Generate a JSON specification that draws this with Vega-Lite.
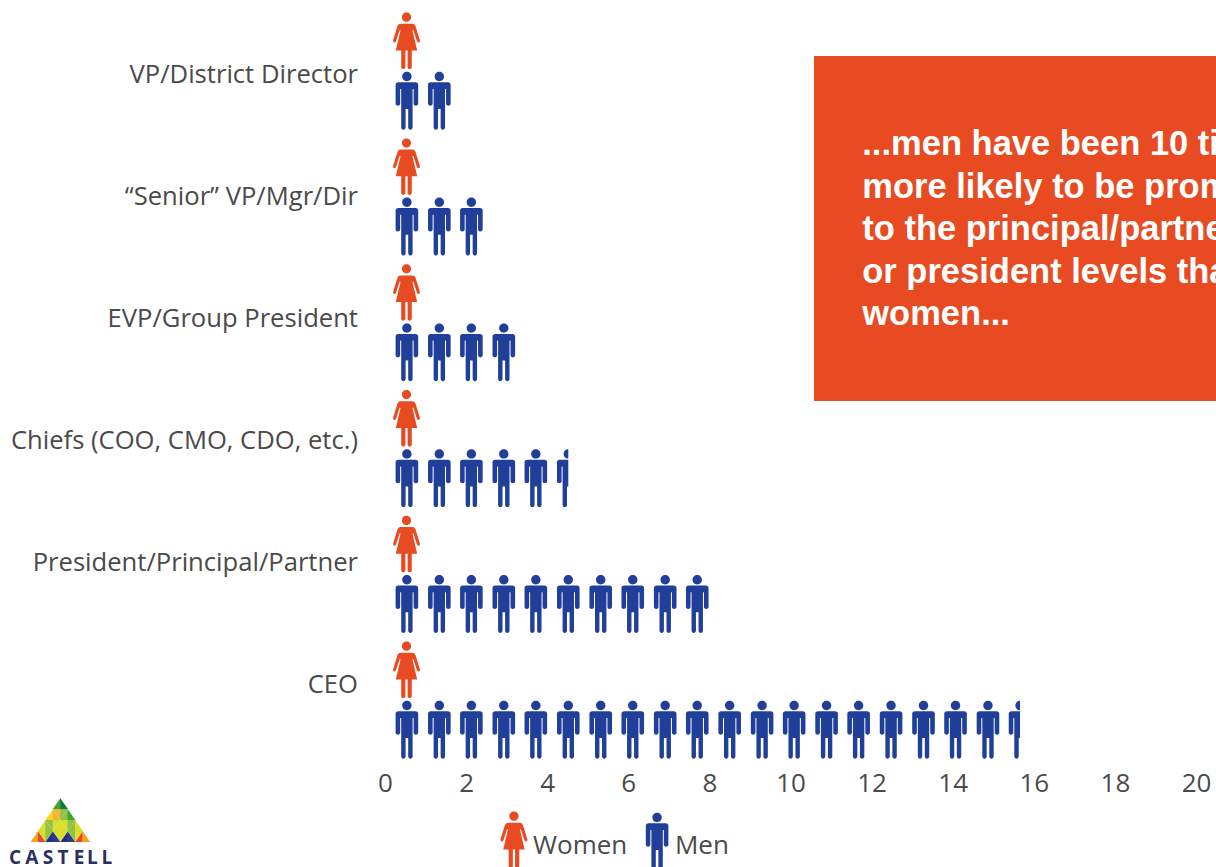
{"$schema":"https://vega.github.io/schema/vega-lite/v6.json","width":831,"height":770,"autosize":"none","padding":{"left":385,"top":0,"right":0,"bottom":97},"background":"white","config":{"view":{"stroke":null}},
"datasets":{
"people":[
{"level":"VP/District Director","gender":"Women","icon":"woman","x":0.53},
{"level":"VP/District Director","gender":"Men","icon":"man","x":0.54},{"level":"VP/District Director","gender":"Men","icon":"man","x":1.34},
{"level":"“Senior” VP/Mgr/Dir","gender":"Women","icon":"woman","x":0.53},
{"level":"“Senior” VP/Mgr/Dir","gender":"Men","icon":"man","x":0.54},{"level":"“Senior” VP/Mgr/Dir","gender":"Men","icon":"man","x":1.34},{"level":"“Senior” VP/Mgr/Dir","gender":"Men","icon":"man","x":2.13},
{"level":"EVP/Group President","gender":"Women","icon":"woman","x":0.53},
{"level":"EVP/Group President","gender":"Men","icon":"man","x":0.54},{"level":"EVP/Group President","gender":"Men","icon":"man","x":1.34},{"level":"EVP/Group President","gender":"Men","icon":"man","x":2.13},{"level":"EVP/Group President","gender":"Men","icon":"man","x":2.93},
{"level":"Chiefs (COO, CMO, CDO, etc.)","gender":"Women","icon":"woman","x":0.53},
{"level":"Chiefs (COO, CMO, CDO, etc.)","gender":"Men","icon":"man","x":0.54},{"level":"Chiefs (COO, CMO, CDO, etc.)","gender":"Men","icon":"man","x":1.34},{"level":"Chiefs (COO, CMO, CDO, etc.)","gender":"Men","icon":"man","x":2.13},{"level":"Chiefs (COO, CMO, CDO, etc.)","gender":"Men","icon":"man","x":2.93},{"level":"Chiefs (COO, CMO, CDO, etc.)","gender":"Men","icon":"man","x":3.72},{"level":"Chiefs (COO, CMO, CDO, etc.)","gender":"Men","icon":"half","x":4.52},
{"level":"President/Principal/Partner","gender":"Women","icon":"woman","x":0.53},
{"level":"President/Principal/Partner","gender":"Men","icon":"man","x":0.54},{"level":"President/Principal/Partner","gender":"Men","icon":"man","x":1.34},{"level":"President/Principal/Partner","gender":"Men","icon":"man","x":2.13},{"level":"President/Principal/Partner","gender":"Men","icon":"man","x":2.93},{"level":"President/Principal/Partner","gender":"Men","icon":"man","x":3.72},{"level":"President/Principal/Partner","gender":"Men","icon":"man","x":4.52},{"level":"President/Principal/Partner","gender":"Men","icon":"man","x":5.32},{"level":"President/Principal/Partner","gender":"Men","icon":"man","x":6.11},{"level":"President/Principal/Partner","gender":"Men","icon":"man","x":6.91},{"level":"President/Principal/Partner","gender":"Men","icon":"man","x":7.70},
{"level":"CEO","gender":"Women","icon":"woman","x":0.53},
{"level":"CEO","gender":"Men","icon":"man","x":0.54},{"level":"CEO","gender":"Men","icon":"man","x":1.34},{"level":"CEO","gender":"Men","icon":"man","x":2.13},{"level":"CEO","gender":"Men","icon":"man","x":2.93},{"level":"CEO","gender":"Men","icon":"man","x":3.72},{"level":"CEO","gender":"Men","icon":"man","x":4.52},{"level":"CEO","gender":"Men","icon":"man","x":5.32},{"level":"CEO","gender":"Men","icon":"man","x":6.11},{"level":"CEO","gender":"Men","icon":"man","x":6.91},{"level":"CEO","gender":"Men","icon":"man","x":7.70},{"level":"CEO","gender":"Men","icon":"man","x":8.50},{"level":"CEO","gender":"Men","icon":"man","x":9.30},{"level":"CEO","gender":"Men","icon":"man","x":10.09},{"level":"CEO","gender":"Men","icon":"man","x":10.89},{"level":"CEO","gender":"Men","icon":"man","x":11.68},{"level":"CEO","gender":"Men","icon":"man","x":12.48},{"level":"CEO","gender":"Men","icon":"man","x":13.28},{"level":"CEO","gender":"Men","icon":"man","x":14.07},{"level":"CEO","gender":"Men","icon":"man","x":14.87},{"level":"CEO","gender":"Men","icon":"half","x":15.66}
],
"levels":[{"level":"VP/District Director"},{"level":"“Senior” VP/Mgr/Dir"},{"level":"EVP/Group President"},{"level":"Chiefs (COO, CMO, CDO, etc.)"},{"level":"President/Principal/Partner"},{"level":"CEO"}],
"legend":[{"gender":"Women","icon":"woman","x":3.18,"tx":3.65},{"gender":"Men","icon":"man","x":6.71,"tx":7.15}],
"logo":[
{"gx":1,"gy":0.5,"part":"L","tint":"orange"},{"gx":1,"gy":0.5,"part":"R","tint":"red"},
{"gx":3,"gy":0.5,"part":"L","tint":"navy"},{"gx":3,"gy":0.5,"part":"R","tint":"navy2"},
{"gx":5,"gy":0.5,"part":"L","tint":"navy"},{"gx":5,"gy":0.5,"part":"R","tint":"navy2"},
{"gx":7,"gy":0.5,"part":"L","tint":"red"},{"gx":7,"gy":0.5,"part":"R","tint":"orange"},
{"gx":2,"gy":0.5,"part":"DL","tint":"lime"},{"gx":2,"gy":0.5,"part":"DR","tint":"leaf"},
{"gx":4,"gy":0.5,"part":"DL","tint":"lime"},{"gx":4,"gy":0.5,"part":"DR","tint":"lime"},
{"gx":6,"gy":0.5,"part":"DL","tint":"leaf"},{"gx":6,"gy":0.5,"part":"DR","tint":"lime"},
{"gx":2,"gy":1.5,"part":"L","tint":"lime"},{"gx":2,"gy":1.5,"part":"R","tint":"leaf"},
{"gx":4,"gy":1.5,"part":"L","tint":"lime"},{"gx":4,"gy":1.5,"part":"R","tint":"lime"},
{"gx":6,"gy":1.5,"part":"L","tint":"leaf"},{"gx":6,"gy":1.5,"part":"R","tint":"lime"},
{"gx":3,"gy":1.5,"part":"DL","tint":"leaf"},{"gx":3,"gy":1.5,"part":"DR","tint":"lime"},
{"gx":5,"gy":1.5,"part":"DL","tint":"lime"},{"gx":5,"gy":1.5,"part":"DR","tint":"leaf"},
{"gx":3,"gy":2.5,"part":"L","tint":"yellow"},{"gx":3,"gy":2.5,"part":"R","tint":"amber"},
{"gx":5,"gy":2.5,"part":"L","tint":"leaf"},{"gx":5,"gy":2.5,"part":"R","tint":"grass"},
{"gx":4,"gy":2.5,"part":"DL","tint":"amber"},{"gx":4,"gy":2.5,"part":"DR","tint":"leaf"},
{"gx":4,"gy":3.5,"part":"L","tint":"grass"},{"gx":4,"gy":3.5,"part":"R","tint":"forest"}
],
"letters":[{"ch":"C","gx":-2.12},{"ch":"A","gx":0.14},{"ch":"S","gx":2.34},{"ch":"T","gx":4.36},{"ch":"E","gx":6.53},{"ch":"L","gx":8.32},{"ch":"L","gx":10.27}]
},
"resolve":{"scale":{"x":"independent","y":"independent","shape":"independent","color":"independent"},"axis":{"x":"independent","y":"independent"}},
"layer":[
{"data":{"values":[{"note":"callout"}]},"mark":{"type":"rect","color":"#e84b22"},"encoding":{"x":{"datum":10.58,"type":"quantitative","scale":{"domain":[0,20.493],"nice":false,"zero":false},"axis":null},"x2":{"datum":20.493},"y":{"value":56},"y2":{"value":401}}},
{"data":{"values":[{"note":"callout"}]},"mark":{"type":"text","text":["...men have been 10 times","more likely to be promoted","to the principal/partner","or president levels than","women..."],"font":"Liberation Sans","fontWeight":"bold","fontSize":34.5,"lineHeight":42.6,"align":"left","baseline":"alphabetic","color":"white"},"encoding":{"x":{"datum":11.77,"type":"quantitative","scale":{"domain":[0,20.493],"nice":false,"zero":false},"axis":null},"y":{"value":155}}},
{"data":{"name":"people"},"mark":{"type":"point","filled":true,"opacity":1,"strokeWidth":0,"size":4},"encoding":{
"x":{"field":"x","type":"quantitative","scale":{"domain":[0,20.493],"nice":false,"zero":false},"axis":{"values":[0,2,4,6,8,10,12,14,16,18,20],"title":null,"grid":false,"domain":false,"ticks":false,"labelFont":"Open Sans","labelFontSize":26,"labelColor":"#4a4a4a","labelPadding":0,"labelFlush":false,"labelOverlap":false,"format":"d"}},
"y":{"field":"level","type":"nominal","scale":{"type":"point","domain":["VP/District Director","“Senior” VP/Mgr/Dir","EVP/Group President","Chiefs (COO, CMO, CDO, etc.)","President/Principal/Partner","CEO"],"range":[71,700],"padding":0},"axis":null},
"yOffset":{"field":"gender","type":"nominal","scale":{"type":"point","domain":["Women","Men"],"range":[-30,30],"padding":0}},
"color":{"field":"gender","type":"nominal","scale":{"domain":["Women","Men"],"range":["#e84b22","#1f3f99"]},"legend":null},
"shape":{"field":"icon","type":"nominal","scale":{"domain":["woman","man","half"],"range":[
"M-6 -17.2H6Q8 -17.2 9 -15L13.3 -1Q13.8 1.5 11.8 1.5Q10.8 1.5 10.2 -0.5L6.8 -11L6 -10.5L10.7 9.5H5.3V26A2.1 2.1 0 0 1 1.1 26V9.5H-1.1V26A2.1 2.1 0 0 1 -5.3 26V9.5H-10.7L-6 -10.5L-6.8 -11L-10.2 -0.5Q-10.8 1.5 -11.8 1.5Q-13.8 1.5 -13.3 -1L-9 -15Q-8 -17.2 -6 -17.2ZM-4.6 -23.8A4.6 4.6 0 1 0 4.6 -23.8A4.6 4.6 0 1 0 -4.6 -23.8Z",
"M-8.5 -18.7H8.5Q11.3 -18.7 11.3 -16V2.5A2.3 2.3 0 0 1 6.7 2.5V-12H5.7V26.5A2.2 2.2 0 0 1 1.3 26.5V8H-1.3V26.5A2.2 2.2 0 0 1 -5.7 26.5V-12H-6.7V2.5A2.3 2.3 0 0 1 -11.3 2.5V-16Q-11.3 -18.7 -8.5 -18.7ZM-4.7 -24.5A4.7 4.7 0 1 0 4.7 -24.5A4.7 4.7 0 1 0 -4.7 -24.5Z",
"M0 -18.7V8H-1.3V26.5A2.2 2.2 0 0 1 -5.7 26.5V-12H-6.7V2.5A2.3 2.3 0 0 1 -11.3 2.5V-16Q-11.3 -18.7 -8.5 -18.7ZM0 -29.2A4.7 4.7 0 0 0 0 -19.8Z"]},"legend":null}
}},
{"data":{"name":"levels"},"mark":{"type":"text","font":"Open Sans","fontSize":25.6,"align":"right","baseline":"middle","color":"#4a4a4a","dx":-27},"encoding":{
"x":{"datum":0,"type":"quantitative","scale":{"domain":[0,20.493],"nice":false,"zero":false},"axis":null},
"y":{"field":"level","type":"nominal","sort":null,"scale":{"type":"point","domain":["VP/District Director","“Senior” VP/Mgr/Dir","EVP/Group President","Chiefs (COO, CMO, CDO, etc.)","President/Principal/Partner","CEO"],"range":[75,685],"padding":0},"axis":null},
"text":{"field":"level"}}},
{"data":{"name":"legend"},"mark":{"type":"point","filled":true,"opacity":1,"strokeWidth":0,"size":4},"encoding":{
"x":{"field":"x","type":"quantitative","scale":{"domain":[0,20.493],"nice":false,"zero":false},"axis":null},
"y":{"field":"gender","type":"nominal","scale":{"type":"point","domain":["Women","Men"],"range":[840,842],"padding":0},"axis":null},
"color":{"field":"gender","type":"nominal","scale":{"domain":["Women","Men"],"range":["#e84b22","#1f3f99"]},"legend":null},
"shape":{"field":"icon","type":"nominal","scale":{"domain":["woman","man"],"range":[
"M-6 -17.2H6Q8 -17.2 9 -15L13.3 -1Q13.8 1.5 11.8 1.5Q10.8 1.5 10.2 -0.5L6.8 -11L6 -10.5L10.7 9.5H5.3V26A2.1 2.1 0 0 1 1.1 26V9.5H-1.1V26A2.1 2.1 0 0 1 -5.3 26V9.5H-10.7L-6 -10.5L-6.8 -11L-10.2 -0.5Q-10.8 1.5 -11.8 1.5Q-13.8 1.5 -13.3 -1L-9 -15Q-8 -17.2 -6 -17.2ZM-4.6 -23.8A4.6 4.6 0 1 0 4.6 -23.8A4.6 4.6 0 1 0 -4.6 -23.8Z",
"M-8.5 -18.7H8.5Q11.3 -18.7 11.3 -16V2.5A2.3 2.3 0 0 1 6.7 2.5V-12H5.7V26.5A2.2 2.2 0 0 1 1.3 26.5V8H-1.3V26.5A2.2 2.2 0 0 1 -5.7 26.5V-12H-6.7V2.5A2.3 2.3 0 0 1 -11.3 2.5V-16Q-11.3 -18.7 -8.5 -18.7ZM-4.7 -24.5A4.7 4.7 0 1 0 4.7 -24.5A4.7 4.7 0 1 0 -4.7 -24.5Z"]},"legend":null}
}},
{"data":{"name":"legend"},"mark":{"type":"text","font":"Open Sans","fontSize":26,"align":"left","baseline":"middle","color":"#4a4a4a"},"encoding":{
"x":{"field":"tx","type":"quantitative","scale":{"domain":[0,20.493],"nice":false,"zero":false},"axis":null},
"y":{"value":846},
"text":{"field":"gender"}}},
{"data":{"name":"logo"},"mark":{"type":"point","filled":true,"opacity":1,"strokeWidth":0,"size":4},"encoding":{
"x":{"field":"gx","type":"quantitative","scale":{"domain":[0,8],"range":[-354.3,-295],"nice":false,"zero":false},"axis":null},
"y":{"field":"gy","type":"quantitative","scale":{"domain":[0,4],"range":[842,798],"nice":false,"zero":false},"axis":null},
"color":{"field":"tint","type":"nominal","scale":{"domain":["orange","red","navy","navy2","lime","leaf","yellow","amber","grass","forest"],"range":["#f6a21e","#e8472a","#1f2f7c","#2a3a8c","#d6de2e","#93c146","#f9d71c","#f5b335","#3fa535","#0e7a3e"]},"legend":null},
"shape":{"field":"part","type":"nominal","scale":{"domain":["L","R","DL","DR"],"range":["M0.2 -5.6V5.6H-7.6Z","M-0.2 -5.6V5.6H7.6Z","M0.2 5.6V-5.6H-7.6Z","M-0.2 5.6V-5.6H7.6Z"]},"legend":null}
}},
{"data":{"name":"letters"},"mark":{"type":"text","font":"Open Sans","fontWeight":"bold","fontSize":19,"align":"center","baseline":"middle","color":"#2b2f63"},"encoding":{
"x":{"field":"gx","type":"quantitative","scale":{"domain":[0,8],"range":[-354.3,-295],"nice":false,"zero":false},"axis":null},
"y":{"value":858},
"text":{"field":"ch"}}}
]}
